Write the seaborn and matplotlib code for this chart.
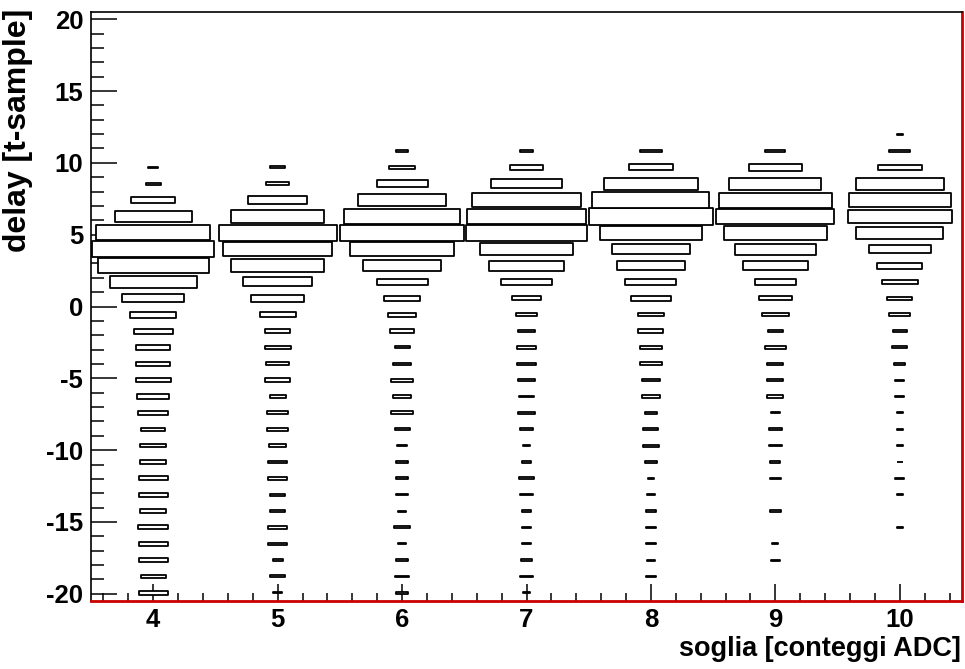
import numpy as np
import pandas as pd
import matplotlib
matplotlib.use("Agg")
import matplotlib.pyplot as plt
import seaborn as sns
from matplotlib.patches import Rectangle
from matplotlib.collections import PatchCollection
from matplotlib.ticker import MultipleLocator

# ---- data: 2D occupancy (threshold vs delay), box size relative to max ----
thresholds = [4, 5, 6, 7, 8, 9, 10]
delay_min, delay_max, n_delay_bins = -20.5, 20.5, 36

# occupancy per delay bin, starting from the lowest delay bin (bin 0 .. bin 28)
occ_thr4 = [23, 20, 23, 23, 24, 21, 23, 23, 21, 21, 19, 24, 26, 28, 27, 27, 31, 37,
            50, 70, 89, 98, 92, 62, 35, 12, 8, 0, 0]
occ_thr5 = [7, 12, 8, 15, 15, 12, 12, 15, 15, 14, 17, 17, 13, 20, 18, 21, 20, 29,
            43, 55, 75, 88, 95, 75, 47, 19, 12, 0, 0]
occ_thr6 = [10, 11, 9, 7, 13, 6, 10, 10, 10, 8, 12, 17, 15, 17, 15, 12, 19, 23,
            29, 41, 63, 83, 100, 93, 71, 41, 21, 10, 0]
occ_thr7 = [6, 11, 9, 8, 7, 7, 10, 12, 7, 6, 10, 13, 12, 14, 15, 16, 14, 17,
            24, 41, 60, 74, 97, 95, 87, 57, 27, 10, 0]
occ_thr8 = [0, 8, 7, 8, 8, 8, 7, 5, 10, 13, 12, 10, 15, 14, 17, 17, 20, 21,
            32, 41, 54, 63, 82, 100, 94, 75, 36, 17, 0]
occ_thr9 = [0, 0, 7, 5, 0, 9, 0, 9, 8, 11, 10, 7, 13, 13, 13, 17, 12, 22,
            26, 33, 52, 65, 83, 95, 91, 74, 43, 16, 0]
occ_thr10 = [0, 0, 0, 0, 5, 0, 5, 7, 5, 5, 5, 5, 7, 7, 9, 12, 11, 17,
             20, 29, 36, 50, 70, 84, 82, 71, 35, 17, 5]

x_label = "soglia [conteggi ADC]"
y_label = "delay [t-sample]"

occupancy = {4: occ_thr4, 5: occ_thr5, 6: occ_thr6, 7: occ_thr7,
             8: occ_thr8, 9: occ_thr9, 10: occ_thr10}

bin_h = (delay_max - delay_min) / n_delay_bins
records = []
for thr in thresholds:
    for i, v in enumerate(occupancy[thr]):
        records.append({"soglia": thr,
                        "delay": delay_min + (i + 0.5) * bin_h,
                        "occ": v})
df = pd.DataFrame(records)
df = df[df["occ"] > 0]
occ_max = df["occ"].max()

# ---- style ----
sns.set_theme(style="ticks")
plt.rcParams["font.family"] = ["Liberation Sans", "DejaVu Sans"]
plt.rcParams["axes.unicode_minus"] = False
plt.rcParams["text.color"] = "black"
plt.rcParams["axes.labelcolor"] = "black"
plt.rcParams["xtick.color"] = "black"
plt.rcParams["ytick.color"] = "black"

fig = plt.figure(figsize=(9.65, 6.69), dpi=100)
fig.patch.set_facecolor("white")
ax = fig.add_axes([91 / 965, 1 - 601 / 669, 871 / 965, 589 / 669])
ax.set_facecolor("white")

# boxes: width and height scale with the bin content (ROOT-style BOX)
boxes = []
for _, r in df.iterrows():
    f = r["occ"] / occ_max
    w = f * 1.0
    h = f * bin_h
    boxes.append(Rectangle((r["soglia"] - w / 2, r["delay"] - h / 2), w, h))
ax.add_collection(PatchCollection(boxes, facecolor="white",
                                  edgecolor="black", linewidth=1.3))

ax.set_xlim(3.5, 10.5)
ax.set_ylim(delay_min, delay_max)

ax.xaxis.set_major_locator(MultipleLocator(1))
ax.xaxis.set_minor_locator(MultipleLocator(0.2))
ax.yaxis.set_major_locator(MultipleLocator(5))
ax.yaxis.set_minor_locator(MultipleLocator(1))

ax.tick_params(axis="x", which="major", direction="in", length=12, width=1.1,
               color="black", labelcolor="black", labelsize=18.5, pad=5, top=False)
ax.tick_params(axis="x", which="minor", direction="in", length=5.5, width=1.1,
               color="black", top=False)
ax.tick_params(axis="y", which="major", direction="in", length=18.5, width=1.1,
               color="black", labelcolor="black", labelsize=18.5, pad=5.5, right=False)
ax.tick_params(axis="y", which="minor", direction="in", length=9.5, width=1.1,
               color="black", right=False)
for lab in ax.get_xticklabels() + ax.get_yticklabels():
    lab.set_fontweight("bold")

for s in ("left", "top"):
    ax.spines[s].set_color("black")
    ax.spines[s].set_linewidth(1.2)
for s in ("right", "bottom"):
    ax.spines[s].set_color("#cc0000")
    ax.spines[s].set_linewidth(2.0)

fig.text(961 / 965, 1 - 656 / 669, x_label, ha="right", va="baseline",
         fontsize=19.5, fontweight="bold", color="black")
fig.text(18 / 965, 1 - 9 / 669, y_label, ha="center", va="top",
         rotation=90, fontsize=23, fontweight="bold", color="black")

fig.savefig("out.png", dpi=100, facecolor="white")
